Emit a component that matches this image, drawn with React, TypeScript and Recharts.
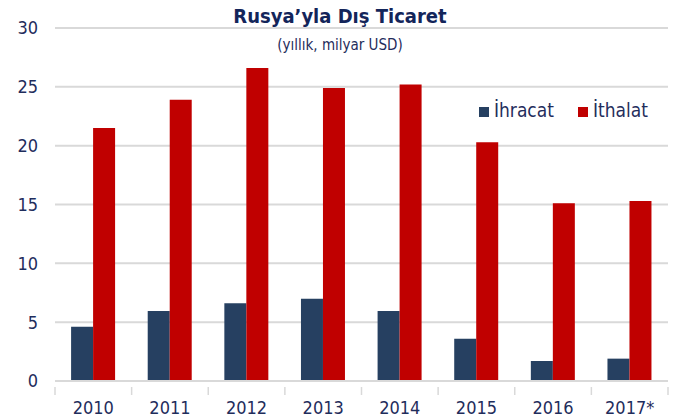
import React from 'react'
import { BarChart, Bar, XAxis, YAxis, CartesianGrid } from 'recharts'

const years = ['2010', '2011', '2012', '2013', '2014', '2015', '2016', '2017*']
const ihracat = [4.6, 5.95, 6.6, 7.0, 5.95, 3.6, 1.7, 1.9]
const ithalat = [21.5, 23.9, 26.6, 24.9, 25.2, 20.3, 15.1, 15.3]
const yTicks = [0, 5, 10, 15, 20, 25, 30]

const FONT = "'DejaVu Sans Condensed', 'Open Sans', sans-serif"
const TEXT = '#1f2d5c'
const NAVY = '#264061'
const RED = '#c00000'
const GRID = '#d9d9d9'

const data = years.map((y, i) => ({ year: y, 'İhracat': ihracat[i], 'İthalat': ithalat[i] }))

const legendItems = [
  { name: 'İhracat', color: NAVY },
  { name: 'İthalat', color: RED },
]

// label + tick marks on category borders (Excel style)
function YearTick(props: any) {
  const { x, y, payload, index, visibleTicksCount } = props
  const half = payload.offset || 0
  const top = y - 14
  return (
    <g>
      <line x1={x - half} x2={x - half} y1={top} y2={top + 8} stroke={GRID} strokeWidth={1.5} />
      {index === visibleTicksCount - 1 && (
        <line x1={x + half} x2={x + half} y1={top} y2={top + 8} stroke={GRID} strokeWidth={1.5} />
      )}
      <text x={x} y={y} dy="0.71em" textAnchor="middle" fontSize={18} fill={TEXT} fontFamily={FONT}>
        {payload.value}
      </text>
    </g>
  )
}

export default function App() {
  return (
    <div style={{ position: 'absolute', left: 0, top: 0, width: 675, height: 418, background: '#fff', fontFamily: FONT }}>
      <BarChart
        width={675}
        height={418}
        data={data}
        margin={{ top: 28, right: 7, bottom: 0, left: 0 }}
        barGap={0}
        barCategoryGap="21%"
      >
        <CartesianGrid vertical={false} stroke={GRID} strokeWidth={2} />
        <XAxis
          dataKey="year"
          axisLine={{ stroke: GRID, strokeWidth: 2 }}
          tickLine={false}
          height={37}
          tickMargin={14}
          tick={<YearTick />}
        />
        <YAxis
          domain={[0, 30]}
          ticks={yTicks}
          width={55}
          axisLine={false}
          tickLine={false}
          tickSize={0}
          tickMargin={17}
          tick={{ fontSize: 18, fill: TEXT, fontFamily: FONT }}
        />
        <Bar dataKey="İhracat" fill={NAVY} isAnimationActive={false} />
        <Bar dataKey="İthalat" fill={RED} isAnimationActive={false} />
      </BarChart>
      <div style={{ position: 'absolute', top: 4, left: 0, width: 680, textAlign: 'center', fontSize: 20, fontWeight: 'bold', color: '#13255a' }}>
        Rusya’yla Dış Ticaret
      </div>
      <div style={{ position: 'absolute', top: 36, left: 0, width: 680, textAlign: 'center', fontSize: 15, color: TEXT }}>
        (yıllık, milyar USD)
      </div>
      <div style={{ position: 'absolute', top: 99, left: 479, display: 'flex', alignItems: 'center', fontSize: 19, color: TEXT }}>
        {legendItems.map((it, i) => (
          <div key={it.name} style={{ display: 'flex', alignItems: 'center', marginRight: i === 0 ? 24 : 0 }}>
            <span style={{ display: 'inline-block', width: 10, height: 10, background: it.color, marginRight: 5, marginTop: 4 }} />
            <span>{it.name}</span>
          </div>
        ))}
      </div>
    </div>
  )
}
